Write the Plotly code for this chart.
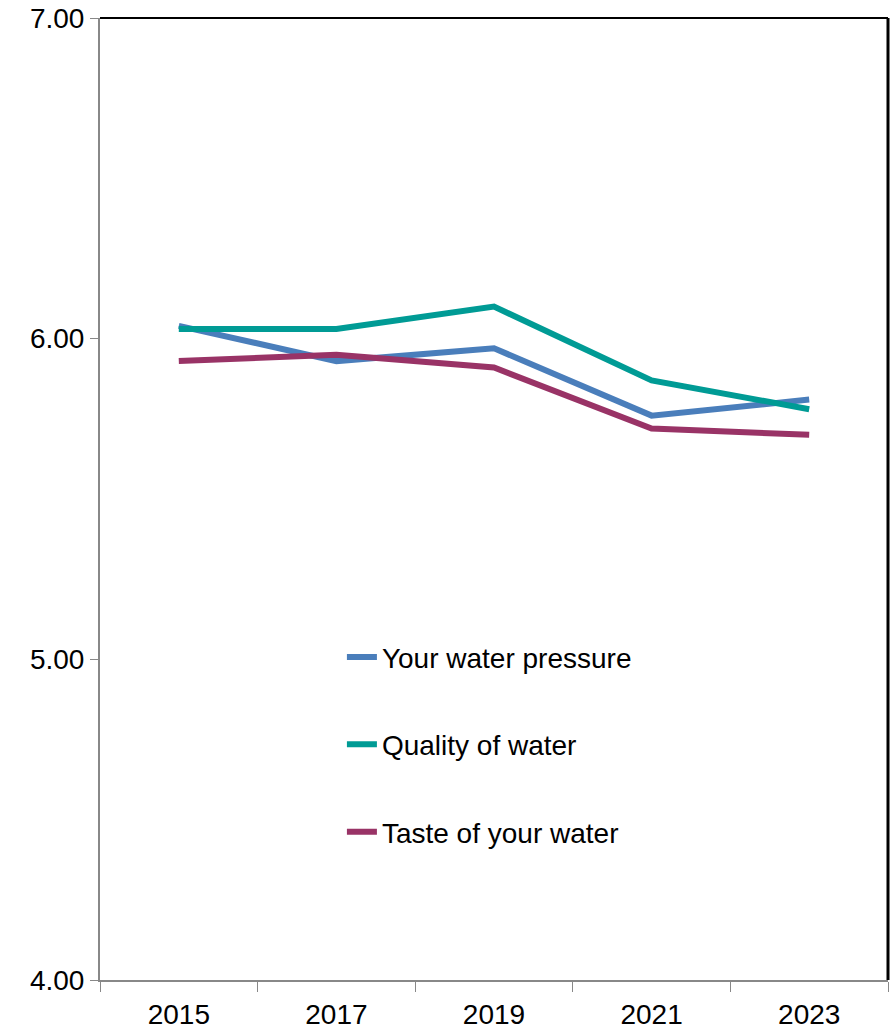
import plotly.graph_objects as go

years = ["2015", "2017", "2019", "2021", "2023"]
water_pressure = [6.04, 5.93, 5.97, 5.76, 5.81]
water_quality = [6.03, 6.03, 6.10, 5.87, 5.78]
water_taste = [5.93, 5.95, 5.91, 5.72, 5.70]

series = [
    ("Your water pressure", water_pressure, "#4a7ebb"),
    ("Quality of water", water_quality, "#009b95"),
    ("Taste of your water", water_taste, "#993366"),
]

fig = go.Figure()
for name, vals, color in series:
    fig.add_trace(
        go.Scatter(
            x=years,
            y=vals,
            mode="lines",
            name=name,
            legendgroup=name,
            line=dict(color=color, width=6),
        )
    )

# black frame on top and right edge of the plot area
fig.add_shape(type="line", xref="paper", yref="paper", x0=0, x1=1, y0=1, y1=1,
              line=dict(color="black", width=2))
fig.add_shape(type="line", xref="paper", yref="paper", x0=1, x1=1, y0=1, y1=0,
              line=dict(color="black", width=3))

fig.update_layout(
    width=893,
    height=1031,
    margin=dict(l=100, r=5, t=18, b=51),
    paper_bgcolor="white",
    plot_bgcolor="white",
    font=dict(family="Liberation Sans, Arial, sans-serif", size=28, color="black"),
    showlegend=True,
    legend=dict(
        x=0.307, y=0.3615, xanchor="left", yanchor="top",
        bgcolor="rgba(0,0,0,0)",
        font=dict(size=28),
        tracegroupgap=48,
    ),
    xaxis=dict(
        type="category",
        range=[-0.5, 4.5],
        tickson="boundaries",
        ticks="outside",
        ticklen=10,
        tickcolor="#888888",
        showline=True,
        linecolor="#888888",
        linewidth=2,
        showgrid=False,
        automargin=False,
        ticklabelstandoff=8,
        tickfont=dict(size=28),
    ),
    yaxis=dict(
        range=[4, 7],
        tickvals=[4, 5, 6, 7],
        tickformat=".2f",
        ticks="outside",
        ticklen=8,
        tickcolor="#888888",
        showline=True,
        linecolor="#888888",
        linewidth=2,
        showgrid=False,
        zeroline=False,
        automargin=False,
        ticklabeloverflow="allow",
        tickfont=dict(size=28),
    ),
)

# drop the page's default body margin so the figure fills the window
fig.write_html(
    "out.html",
    config={"displayModeBar": False},
    post_script="document.body.style.margin = '0';",
)
